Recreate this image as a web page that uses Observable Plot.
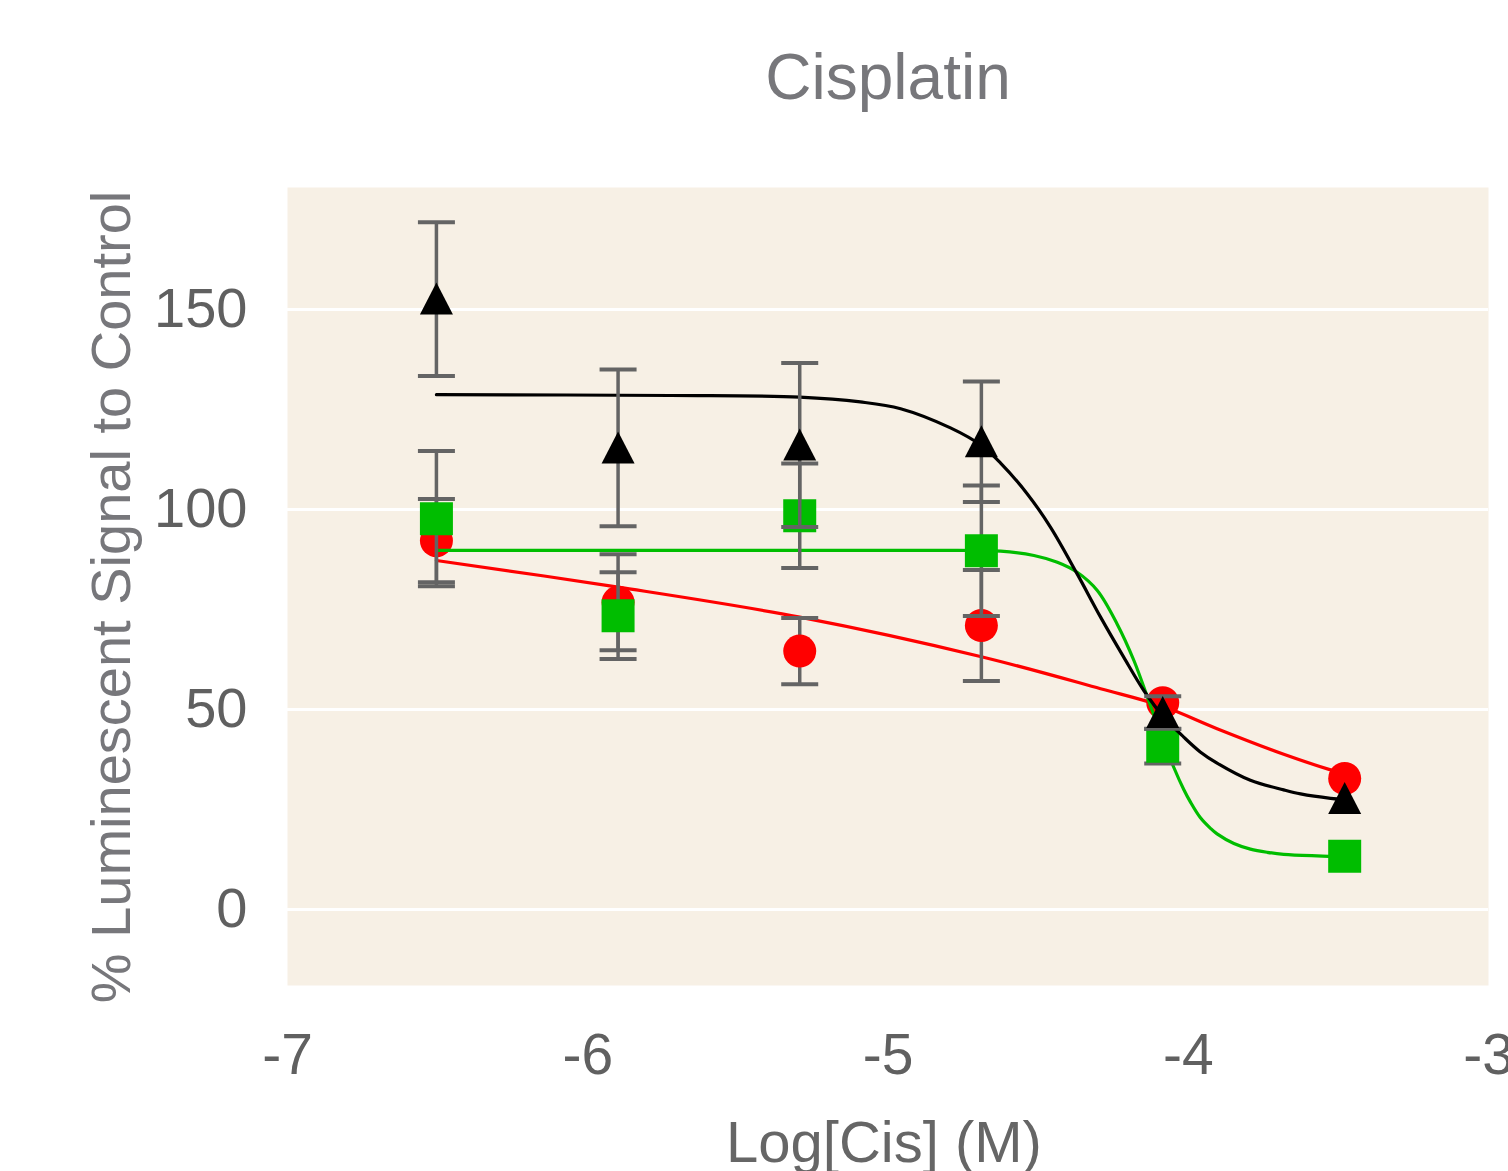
<!DOCTYPE html>
<html>
<head>
<meta charset="utf-8">
<script src="https://cdn.jsdelivr.net/npm/d3@7"></script>
<script src="https://cdn.jsdelivr.net/npm/@observablehq/plot@0.6"></script>
<style>
  html, body { margin: 0; padding: 0; background: #ffffff; }
  #chart svg { display: block; }
</style>
</head>
<body>
<div id="chart"></div>
<script>
// ---- Data ----
const chartTitle = "Cisplatin";
const xTitle = "Log[Cis] (M)";
const yTitle = "% Luminescent Signal to Control";
const xTicks = [-7, -6, -5, -4, -3];
const yTicks = [0, 50, 100, 150];

// log10 of concentration (M)
const logConc = [-6.504, -5.899, -5.294, -4.689, -4.085, -3.479];

// Series means and error half-widths (0 = not visible)
const redMean = [92.2, 76.8, 64.6, 71.0, 51.7, 32.75];
const redErr = [10.4, 12.0, 8.3, 13.9, 0, 0];
const greenMean = [97.7, 73.45, 98.45, 89.7, 40.8, 13.3];
const greenErr = [16.9, 10.85, 13.05, 16.3, 4.3, 0];
const blackMean = [152.6, 115.4, 116.15, 116.95, 49.25, 27.75];
const blackErr = [19.2, 19.6, 20.5, 15.05, 4.05, 0];

const redFitX = [-6.504, -5.899, -5.294, -4.689, -4.292, -4.085, -3.904, -3.682, -3.526, -3.479];
const redFitY = [87.25, 80.6, 73.1, 63.2, 55.2, 50.8, 45.2, 38.8, 34.9, 33.9];
const greenFitX = [-6.504, -5.5, -4.8, -4.689, -4.625, -4.514, -4.436, -4.37, -4.303, -4.237, -4.181, -4.126, -4.085, -4.048, -4.015, -3.993, -3.96, -3.926, -3.904, -3.848, -3.793, -3.737, -3.682, -3.571, -3.479];
const greenFitY = [89.8, 89.8, 89.8, 89.75, 89.6, 88.5, 86.8, 84.3, 79.75, 71.4, 62.25, 51.0, 42.6, 35.5, 30.0, 26.9, 23.0, 20.3, 18.9, 16.5, 15.1, 14.3, 13.8, 13.4, 13.2];
const blackFitX = [-6.504, -5.724, -5.294, -5.092, -4.958, -4.792, -4.689, -4.625, -4.536, -4.459, -4.37, -4.292, -4.215, -4.148, -4.085, -4.015, -3.96, -3.904, -3.793, -3.682, -3.626, -3.526, -3.479];
const blackFitY = [128.7, 128.5, 128.1, 126.9, 125.2, 120.4, 116.0, 111.6, 103.9, 95.6, 83.9, 73.1, 63.1, 54.75, 48.4, 43.1, 39.4, 36.6, 32.3, 29.9, 28.9, 27.8, 27.5];

// ---- Build tables ----
const pts = (means, errs) => logConc.map((x, i) => ({x, y: means[i], e: errs[i]}));
const fit = (xs, ys) => xs.map((x, i) => ({x, y: ys[i]}));
const caps = (rows) => rows.filter(d => d.e > 0).flatMap(d => [{x: d.x, y: d.y + d.e}, {x: d.x, y: d.y - d.e}]);

const series = [
  {pts: pts(redMean, redErr), fit: fit(redFitX, redFitY), color: "#ff0000", shape: "circle"},
  {pts: pts(greenMean, greenErr), fit: fit(greenFitX, greenFitY), color: "#00bd00", shape: "square"},
  {pts: pts(blackMean, blackErr), fit: fit(blackFitX, blackFitY), color: "#000000", shape: "triangle"}
];

// ---- Custom symbols ----
const symbols = {
  circle: {draw(ctx) { ctx.moveTo(16.5, 0); ctx.arc(0, 0, 16.5, 0, 2 * Math.PI); }},
  square: {draw(ctx) { ctx.rect(-16.5, -16.5, 33, 33); }},
  triangle: {draw(ctx) { ctx.moveTo(0, -16.5); ctx.lineTo(16.5, 15.5); ctx.lineTo(-16.5, 15.5); ctx.closePath(); }}
};
const capSymbol = {draw(ctx) { ctx.moveTo(-18.5, 0); ctx.lineTo(18.5, 0); }};

const errColor = "#646464";
const marks = [
  Plot.frame({fill: "#f7f0e5", stroke: null}),
  Plot.ruleY(yTicks, {stroke: "#ffffff", strokeWidth: 3}),
];
for (const s of series) {
  marks.push(Plot.line(s.fit, {x: "x", y: "y", stroke: s.color, strokeWidth: 3.2, curve: "catmull-rom"}));
  marks.push(Plot.ruleX(s.pts.filter(d => d.e > 0), {x: "x", y1: d => d.y - d.e, y2: d => d.y + d.e, stroke: errColor, strokeWidth: 3.5}));
  marks.push(Plot.dot(caps(s.pts), {x: "x", y: "y", symbol: capSymbol, r: 10, stroke: errColor, strokeWidth: 4, fill: "none"}));
  marks.push(Plot.dot(s.pts, {x: "x", y: "y", symbol: symbols[s.shape], r: 10, fill: s.color, stroke: null}));
}

marks.push(
  Plot.axisX({ticks: xTicks, tickSize: 0, tickPadding: 48, tickFormat: d => String(d), label: null, fontSize: 57, fill: "#606060"}),
  Plot.axisY({ticks: yTicks, tickSize: 0, tickPadding: 40, tickFormat: d => String(d), label: null, fontSize: 56, fill: "#606060"}),
  Plot.text([chartTitle], {text: d => d, frameAnchor: "top", lineAnchor: "bottom", textAnchor: "middle", dy: 98 - 187, fontSize: 64, fill: "#77777b"}),
  Plot.text([xTitle], {text: d => d, frameAnchor: "bottom", lineAnchor: "top", textAnchor: "middle", dy: 1120 - 985, dx: -4, fontSize: 58, fill: "#666666"}),
  Plot.text([yTitle], {text: d => d, frameAnchor: "left", lineAnchor: "bottom", textAnchor: "middle", rotate: -90, dx: 129 - 287, dy: 10.5, fontSize: 56, fill: "#77777b"})
);

const chart = Plot.plot({
  width: 1508,
  height: 1171,
  marginTop: 187,
  marginBottom: 186,
  marginLeft: 287,
  marginRight: 20,
  style: {fontFamily: "'Liberation Sans', Arial, sans-serif", fontSize: "56px", background: "#ffffff", color: "#606060"},
  x: {domain: [-7, -3]},
  y: {domain: [-19, 180.5]},
  marks
});
document.getElementById("chart").appendChild(chart);
</script>
</body>
</html>
